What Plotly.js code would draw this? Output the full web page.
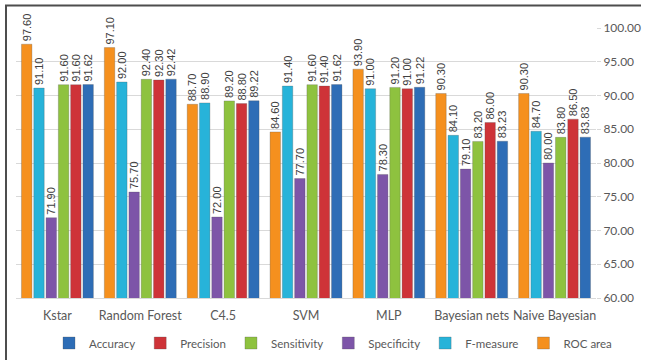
<!DOCTYPE html>
<html>
<head>
<meta charset="utf-8">
<script src="https://cdn.plot.ly/plotly-3.0.1.min.js"></script>
<style>
html,body{margin:0;padding:0;background:#fff;}
#chart{width:646px;height:360px;}
</style>
</head>
<body>
<div id="chart"></div>
<script>
const categories = ["Kstar", "Random Forest", "C4.5", "SVM", "MLP", "Bayesian nets", "Naive Bayesian"];
const rocArea     = [97.60, 97.10, 88.70, 84.60, 93.90, 90.30, 90.30];
const fMeasure    = [91.10, 92.00, 88.90, 91.40, 91.00, 84.10, 84.70];
const specificity = [71.90, 75.70, 72.00, 77.70, 78.30, 79.10, 80.00];
const sensitivity = [91.60, 92.40, 89.20, 91.60, 91.20, 83.20, 83.80];
const precision   = [91.60, 92.30, 88.80, 91.40, 91.00, 86.00, 86.50];
const accuracy    = [91.62, 92.42, 89.22, 91.62, 91.22, 83.23, 83.83];
const yTicks = [60, 65, 70, 75, 80, 85, 90, 95, 100];

const series = [
  {name: "ROC area",    y: rocArea,     color: "#F5901E"},
  {name: "F-measure",   y: fMeasure,    color: "#27B3D9"},
  {name: "Specificity", y: specificity, color: "#7D55A8"},
  {name: "Sensitivity", y: sensitivity, color: "#8EC23F"},
  {name: "Precision",   y: precision,   color: "#CE3338"},
  {name: "Accuracy",    y: accuracy,    color: "#2E6DB6"}
];

const traces = series.map(s => ({
  type: "bar",
  name: s.name,
  x: categories,
  y: s.y,
  marker: {color: s.color, line: {color: "rgba(80,80,80,0.45)", width: 0.6}},
  text: s.y.map(v => v.toFixed(2)),
  textposition: "outside",
  textangle: -90,
  constraintext: "none",
  cliponaxis: false,
  textfont: {family: "Liberation Sans, Arial, sans-serif", size: 11, color: "#404040"},
  hoverinfo: "x+y+name"
}));

const L = 16, R = 50, T = 28, B = 62;
const W = 646, H = 360;
const pw = W - L - R, ph = H - T - B;
const px = x => (x - L) / pw;
const py = y => (H - B - y) / ph;

const layout = {
  width: W, height: H,
  margin: {l: L, r: R, t: T, b: B, pad: 0, autoexpand: false},
  paper_bgcolor: "#ffffff",
  plot_bgcolor: "#ffffff",
  barmode: "group",
  bargap: 0.11,
  bargroupgap: 0.15,
  font: {family: "Lato, Liberation Sans, sans-serif", size: 12, color: "#595959"},
  xaxis: {
    type: "category",
    automargin: false,
    showgrid: false,
    showline: true,
    linecolor: "#d9d9d9",
    linewidth: 1,
    ticks: "",
    ticklabelstandoff: 6,
    tickfont: {family: "Lato, sans-serif", size: 12.5, color: "#595959"},
    fixedrange: true
  },
  yaxis: {
    side: "right",
    automargin: false,
    range: [60, 100],
    tickvals: yTicks,
    ticktext: yTicks.map(v => v.toFixed(2)),
    showgrid: true,
    gridcolor: "#d9d9d9",
    gridwidth: 1,
    zeroline: false,
    showline: false,
    ticks: "outside",
    ticklen: 4,
    tickcolor: "#d9d9d9",
    tickfont: {family: "Lato, sans-serif", size: 12, color: "#595959"},
    fixedrange: true
  },
  showlegend: true,
  legend: {
    orientation: "h",
    traceorder: "reversed",
    xref: "container", yref: "container",
    x: 333 / W, xanchor: "center",
    y: (H - 343) / H, yanchor: "middle",
    font: {family: "Lato, sans-serif", size: 11.5, color: "#595959"},
    itemwidth: 30,
    bgcolor: "rgba(0,0,0,0)"
  },
  shapes: [{
    type: "path",
    xref: "paper", yref: "paper",
    path: `M ${px(6)} ${py(370)} L ${px(6)} ${py(5.5)} L ${px(641)} ${py(5.5)}`,
    line: {color: "#4d4d4d", width: 2}
  }]
};

Plotly.newPlot("chart", traces, layout, {displayModeBar: false, staticPlot: true});
</script>
</body>
</html>
